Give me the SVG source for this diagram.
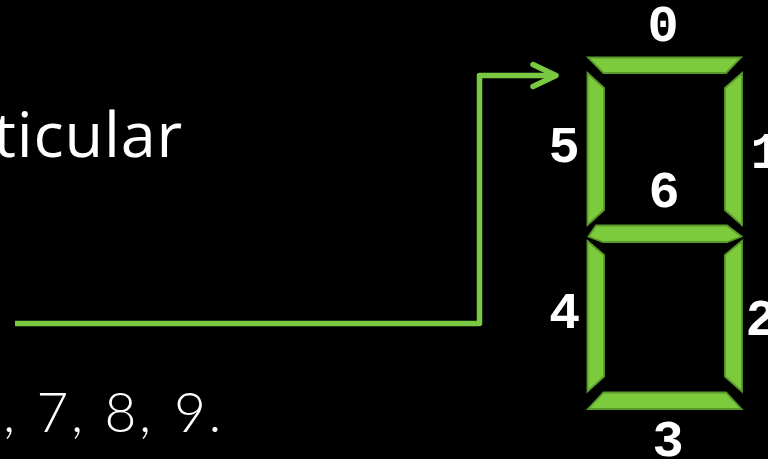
<svg xmlns="http://www.w3.org/2000/svg" width="768" height="459" viewBox="0 0 768 459">
  <style>
    .bg { fill: #000000; }
    .seg { fill: #7ccb3d; stroke: #5a9a2c; stroke-width: 1.8; stroke-linejoin: miter; }
    .wire { fill: none; stroke: #7ac943; stroke-width: 5.5; stroke-linejoin: round; stroke-linecap: butt; }
    .tip { fill: none; stroke: #7ac943; stroke-width: 5.5; stroke-linecap: round; stroke-linejoin: round; }
    .lbl { font-family: "Liberation Mono", "DejaVu Sans Mono", monospace; font-weight: bold; font-size: 52px; fill: #ffffff; text-anchor: middle; }
    .body { font-family: "Open Sans", "Noto Sans", sans-serif; font-size: 63px; fill: #ffffff; }
    .list { font-family: "Lato", "Open Sans", sans-serif; font-weight: 300; font-size: 55px; fill: #ffffff; text-anchor: middle; }
  </style>
  <defs>
    <marker id="chevron" markerUnits="userSpaceOnUse" viewBox="0 0 30 30" refX="26" refY="15" markerWidth="30" markerHeight="30" orient="auto">
      <polyline class="tip" points="3,4 26,15 3,26"/>
    </marker>
  </defs>

  <rect class="bg" x="0" y="0" width="768" height="459"/>

  <!-- body text running off the left edge -->
  <g id="caption">
    <text class="body" x="183" y="157" text-anchor="end" letter-spacing="0.8">ticular</text>
    <text class="list" y="432" x="9 30 52.5 77 99 120.5 145 167 190 215" xml:space="preserve">, 7, 8, 9.</text>
  </g>

  <!-- signal line into the display -->
  <g id="connectors">
    <path class="wire" d="M15,323.5 H479.5 V75.5 H556" marker-end="url(#chevron)"/>
  </g>

  <!-- seven-segment display -->
  <g id="display">
    <g id="seg0">
      <polygon class="seg" points="588,57.5 741,57.5 726,73 603.5,73"/>
      <text class="lbl" x="663" y="41">0</text>
    </g>
    <g id="seg1">
      <polygon class="seg" points="742,73 742,225 725,210 725,88"/>
      <text class="lbl" x="766" y="168">1</text>
    </g>
    <g id="seg2">
      <polygon class="seg" points="742,241 742,391.5 725,376.5 725,255"/>
      <text class="lbl" x="761" y="335">2</text>
    </g>
    <g id="seg3">
      <polygon class="seg" points="603.5,392.5 726,392.5 741.5,409 588,409"/>
      <text class="lbl" x="668" y="456">3</text>
    </g>
    <g id="seg4">
      <polygon class="seg" points="587.5,241 604,255 604,376.5 587.5,391.5"/>
      <text class="lbl" x="564.5" y="328">4</text>
    </g>
    <g id="seg5">
      <polygon class="seg" points="587.5,73 604,88 604,210 587.5,225"/>
      <text class="lbl" x="564" y="161.5">5</text>
    </g>
    <g id="seg6">
      <polygon class="seg" points="596,225.5 727,225.5 741.5,236.5 727,242 603,242 588.5,236.5"/>
      <text class="lbl" x="664" y="207">6</text>
    </g>
  </g>
</svg>
